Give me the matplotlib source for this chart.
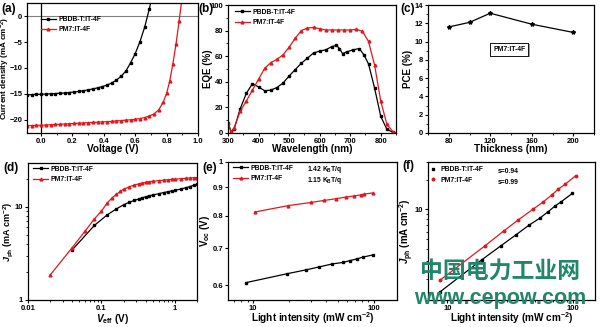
import numpy as np
import matplotlib
matplotlib.use('Agg')
import matplotlib.pyplot as plt
from matplotlib import patheffects
from matplotlib.ticker import MultipleLocator, FixedLocator, NullFormatter, FixedFormatter

plt.rcParams['font.family'] = ['Liberation Sans', 'Noto Sans CJK SC', 'DejaVu Sans']
plt.rcParams['font.weight'] = 'bold'
plt.rcParams['axes.labelweight'] = 'bold'
plt.rcParams['mathtext.fontset'] = 'custom'
plt.rcParams['mathtext.rm'] = 'Liberation Sans:bold'
plt.rcParams['mathtext.bf'] = 'Liberation Sans:bold'
plt.rcParams['mathtext.it'] = 'Liberation Sans:bold:italic'
plt.rcParams['mathtext.default'] = 'regular'
plt.rcParams['axes.linewidth'] = 0.9
plt.rcParams['xtick.major.size'] = 2.2
plt.rcParams['ytick.major.size'] = 2.2
plt.rcParams['xtick.minor.size'] = 1.3
plt.rcParams['ytick.minor.size'] = 1.3
plt.rcParams['xtick.major.pad'] = 1.2
plt.rcParams['ytick.major.pad'] = 1.2
plt.rcParams['xtick.labelsize'] = 5.5
plt.rcParams['ytick.labelsize'] = 5.5

BLACK = 'black'
RED = '#e0181e'
lab1 = 'PBDB-T:IT-4F'
lab2 = 'PM7:IT-4F'

# (a) J-V
v_black = [-0.09, -0.06, -0.03, 0.00, 0.03, 0.06, 0.09, 0.12, 0.15, 0.18, 0.21, 0.24, 0.27, 0.30,
           0.33, 0.36, 0.39, 0.42, 0.45, 0.48, 0.51, 0.54, 0.57, 0.60, 0.63, 0.66, 0.69, 0.72]
j_black = [-15.2, -15.15, -15.1, -15.1, -15.05, -15.0, -14.95, -14.9, -14.85, -14.75, -14.65, -14.55,
           -14.4, -14.25, -14.05, -13.85, -13.6, -13.3, -12.9, -12.35, -11.6, -10.6, -9.0, -7.2,
           -4.9, -2.1, 1.5, 5.5]
v_red = [-0.09, -0.06, -0.03, 0.00, 0.03, 0.06, 0.09, 0.12, 0.15, 0.18, 0.21, 0.24, 0.27, 0.30, 0.33,
         0.36, 0.39, 0.42, 0.45, 0.48, 0.51, 0.54, 0.57, 0.60, 0.63, 0.66, 0.69, 0.72, 0.75, 0.78,
         0.80, 0.82, 0.84, 0.86, 0.88, 0.90]
j_red = [-21.2, -21.15, -21.1, -21.1, -21.05, -21.0, -20.95, -20.9, -20.85, -20.8, -20.75, -20.7,
         -20.65, -20.6, -20.55, -20.5, -20.45, -20.4, -20.35, -20.25, -20.2, -20.1, -20.05, -19.95,
         -19.8, -19.6, -19.3, -18.9, -18.1, -16.5, -14.9, -12.5, -9.2, -5.3, -0.8, 4.0]

# (b) EQE
wl_black = [300, 310, 320, 340, 360, 380, 400, 420, 440, 460, 480, 500, 520, 540, 560, 580, 600, 620,
            640, 655, 665, 675, 690, 710, 730, 745, 760, 780, 800, 820, 840, 850]
eqe_black = [8, 1, 3, 19, 31, 38.5, 36, 33, 33.5, 35.5, 39, 44.5, 49.5, 54.5, 58.5, 62.5, 64, 65,
             67.5, 68.5, 66, 62, 63.5, 65, 66, 61, 54, 35, 13, 3, 0.5, 0]
wl_red = [300, 310, 320, 340, 360, 380, 400, 420, 440, 460, 480, 500, 520, 540, 560, 580, 600, 620,
          640, 660, 680, 700, 720, 740, 760, 780, 800, 820, 840, 850]
eqe_red = [8, 1, 4, 17, 25, 33.5, 42, 50.5, 55, 57.5, 61, 67, 74, 80, 82, 82.5, 81.5, 80.5, 80.5,
           80.5, 80.5, 80.5, 81, 79.5, 71.5, 53, 25, 7, 1, 0]

# (c) PCE vs thickness
thick = [80, 100, 120, 160, 200]
pce = [11.6, 12.1, 13.1, 11.9, 11.0]

# (d) Jph vs Veff
veff_black = [0.04, 0.08, 0.12, 0.16, 0.2, 0.24, 0.28, 0.32, 0.36, 0.4, 0.45, 0.5, 0.6, 0.7, 0.8,
              0.9, 1.0, 1.2, 1.4, 1.6, 1.8, 2.0]
jph_black = [3.45, 6.3, 8.2, 9.5, 10.5, 11.2, 11.7, 12.1, 12.5, 12.8, 13.1, 13.4, 13.8, 14.2, 14.5,
             14.8, 15.0, 15.5, 16.0, 16.5, 17.0, 17.5]
veff_red = [0.02, 0.04, 0.06, 0.08, 0.1, 0.12, 0.14, 0.16, 0.18, 0.2, 0.24, 0.28, 0.32, 0.36, 0.4,
            0.45, 0.5, 0.6, 0.7, 0.8, 0.9, 1.0, 1.2, 1.4, 1.6, 1.8, 2.0]
jph_red = [1.85, 3.65, 5.5, 7.4, 9.0, 11.0, 12.5, 13.6, 14.6, 15.4, 16.4, 17.1, 17.6, 18.0, 18.3,
           18.6, 18.8, 19.1, 19.3, 19.5, 19.7, 19.8, 20.0, 20.2, 20.4, 20.5, 20.6]

# (e) Voc vs light intensity
pl_e_black = [8.7, 19.2, 27.4, 35.3, 45.3, 55.4, 63.3, 72.8, 81.6, 98.6]
voc_black = [0.607, 0.630, 0.640, 0.648, 0.656, 0.660, 0.665, 0.670, 0.675, 0.681]
pl_e_red = [10.3, 19.6, 30.2, 38.7, 48.5, 58.6, 68.7, 78.0, 83.0, 98.6]
voc_red = [0.813, 0.835, 0.846, 0.853, 0.859, 0.865, 0.869, 0.873, 0.876, 0.880]

# (f) Jph vs light intensity
pl_f_black = [8.7, 18.9, 26.8, 35.1, 44.8, 54.7, 63.2, 72.5, 81.0, 98.9]
jl_black = [1.48, 3.14, 4.33, 5.55, 6.97, 8.2, 9.46, 10.9, 12.0, 14.5]
pl_f_red = [8.7, 20.0, 28.3, 36.8, 48.1, 58.1, 67.8, 76.5, 86.6, 105]
jl_red = [1.94, 4.33, 6.12, 7.88, 10.07, 11.9, 14.0, 16.0, 17.9, 21.8]

W, H = 600, 327
fig = plt.figure(figsize=(6, 3.27), dpi=100)


def box(l, t, r, b):
    a = fig.add_axes([l / W, 1 - b / H, (r - l) / W, (b - t) / H])
    a._px = (l, t, r, b)
    return a


def labels(a, xl, yl, yfs=7.0, xfs=7.2, xgap=11.5, ygap=15):
    l, t, r, b = a._px
    a.set_xlabel(xl, fontsize=xfs)
    a.set_ylabel(yl, fontsize=yfs)
    a.xaxis.set_label_coords(0.5, -xgap / (b - t))
    a.xaxis.label.set_va('top')
    a.yaxis.set_label_coords(-ygap / (r - l), 0.5)


lw = 0.9
ms = 2.4
leg_fs = 4.9
legkw = dict(frameon=False, fontsize=leg_fs, handlelength=2.2, handletextpad=0.4,
             labelspacing=0.5, borderpad=0, borderaxespad=0)

# ---- (a)
ax = box(27, 3, 198, 133)
ax.axhline(0, color='gray', lw=0.8)
ax.axvline(0, color='black', lw=0.9)
ax.plot(v_black, j_black, '-s', color=BLACK, lw=lw, ms=ms - 0.6, label=lab1)
ax.plot(v_red, j_red, '-^', color=RED, lw=lw, ms=ms - 0.4, label=lab2)
ax.set_xlim(-0.09, 1.0)
ax.set_ylim(-22.6, 2.6)
ax.xaxis.set_major_locator(MultipleLocator(0.2))
ax.xaxis.set_minor_locator(MultipleLocator(0.1))
ax.yaxis.set_major_locator(MultipleLocator(5))
ax.xaxis.set_major_formatter(matplotlib.ticker.FormatStrFormatter('%.1f'))
labels(ax, 'Voltage (V)', 'Current density (mA cm$^{-2}$)', yfs=5.9, ygap=14.8)
ax.legend(loc='upper left', bbox_to_anchor=(0.08, 0.9), **legkw)

# ---- (b)
ax = box(228, 5, 396, 133)
ax.plot(wl_black, eqe_black, '-s', color=BLACK, lw=lw, ms=ms - 0.6, label=lab1)
ax.plot(wl_red, eqe_red, '-^', color=RED, lw=lw, ms=ms - 0.4, label=lab2)
ax.set_xlim(300, 850)
ax.set_ylim(0, 100)
ax.xaxis.set_major_locator(MultipleLocator(100))
ax.xaxis.set_minor_locator(MultipleLocator(50))
ax.yaxis.set_major_locator(MultipleLocator(20))
ax.yaxis.set_minor_locator(MultipleLocator(10))
labels(ax, 'Wavelength (nm)', 'EQE (%)')
ax.legend(loc='upper left', bbox_to_anchor=(0.04, 0.97), **legkw)

# ---- (c)
ax = box(428, 5, 594, 133)
ax.plot(thick, pce, '-*', color=BLACK, lw=lw, ms=3)
ax.set_xlim(60, 220)
ax.set_ylim(0, 14)
ax.xaxis.set_major_locator(MultipleLocator(40))
ax.xaxis.set_minor_locator(MultipleLocator(20))
ax.yaxis.set_major_locator(MultipleLocator(2))
ax.yaxis.set_minor_locator(MultipleLocator(1))
labels(ax, 'Thickness (nm)', 'PCE (%)')
t = ax.text(0.49, 0.655, lab2, transform=ax.transAxes, fontsize=leg_fs, ha='center', va='center',
            bbox=dict(boxstyle='square,pad=0.45', fc='white', ec='black', lw=0.6))
t.get_bbox_patch().set_path_effects([patheffects.withSimplePatchShadow(offset=(1.2, -1.2),
                                                                       shadow_rgbFace='#999999', alpha=1),
                                     patheffects.Normal()])

# ---- (d)
ax = box(28, 163, 197, 300)
ax.plot(veff_black, jph_black, '-s', color=BLACK, lw=lw, ms=ms - 0.6, label=lab1)
ax.plot(veff_red, jph_red, '-^', color=RED, lw=lw, ms=ms - 0.4, label=lab2)
ax.set_xscale('log')
ax.set_yscale('log')
ax.set_xlim(0.01, 2)
ax.set_ylim(1, 29.5)
ax.xaxis.set_major_locator(FixedLocator([0.01, 0.1, 1]))
ax.xaxis.set_major_formatter(FixedFormatter(['0.01', '0.1', '1']))
ax.yaxis.set_major_locator(FixedLocator([1, 10]))
ax.yaxis.set_major_formatter(FixedFormatter(['1', '10']))
ax.xaxis.set_minor_formatter(NullFormatter())
ax.yaxis.set_minor_formatter(NullFormatter())
labels(ax, '$\\mathit{V}_{eff}$ (V)', '$\\mathit{J}_{ph}$ (mA cm$^{-2}$)', yfs=6.5, xgap=11.5, ygap=12.5)
ax.legend(loc='upper left', bbox_to_anchor=(0.03, 0.98), **legkw)

# ---- (e)
ax = box(228, 162, 397, 300)
ax.plot(pl_e_black, voc_black, '-s', color=BLACK, lw=lw, ms=ms - 0.6, label=lab1)
ax.plot(pl_e_red, voc_red, '-^', color=RED, lw=lw, ms=ms - 0.4, label=lab2)
ax.set_xscale('log')
ax.set_yscale('log')
ax.set_xlim(6.2, 155)
ax.set_ylim(0.565, 1.0)
ax.xaxis.set_major_locator(FixedLocator([10, 100]))
ax.xaxis.set_major_formatter(FixedFormatter(['10', '100']))
ax.xaxis.set_minor_formatter(NullFormatter())
ax.yaxis.set_major_locator(FixedLocator([0.6, 0.7, 0.8, 0.9, 1.0]))
ax.yaxis.set_major_formatter(FixedFormatter(['0.6', '0.7', '0.8', '0.9', '1']))
ax.yaxis.set_minor_locator(FixedLocator([]))
labels(ax, 'Light intensity (mW cm$^{-2}$)', 'V$_{oc}$ (V)', xgap=10.5, ygap=15.5)
ax.legend(loc='upper left', bbox_to_anchor=(0.03, 0.98), **legkw)
ax.text(79 / 169, 0.945, '1.42 K$_{B}$T/q', transform=ax.transAxes, fontsize=leg_fs, va='center')
ax.text(79 / 169, 0.868, '1.15 K$_{B}$T/q', transform=ax.transAxes, fontsize=leg_fs, va='center')

# ---- (f)
ax = box(428, 162, 595, 300)
ax.plot(pl_f_black, jl_black, '-s', color=BLACK, lw=lw, ms=ms - 0.6)
ax.plot(pl_f_red, jl_red, '-o', color=RED, lw=lw, ms=ms - 0.6)
ax.plot([], [], 's', color=BLACK, ms=ms - 0.6, label=lab1)
ax.plot([], [], 'o', color=RED, ms=ms - 0.6, label=lab2)
ax.set_xscale('log')
ax.set_yscale('log')
ax.set_xlim(7, 150)
ax.set_ylim(1.23, 30)
ax.xaxis.set_major_locator(FixedLocator([10, 100]))
ax.xaxis.set_major_formatter(FixedFormatter(['10', '100']))
ax.xaxis.set_minor_formatter(NullFormatter())
ax.yaxis.set_major_locator(FixedLocator([10]))
ax.yaxis.set_major_formatter(FixedFormatter(['10']))
ax.yaxis.set_minor_formatter(NullFormatter())
labels(ax, 'Light intensity (mW cm$^{-2}$)', '$\\mathit{J}_{ph}$ (mA cm$^{-2}$)', xgap=10.5, ygap=12.5)
legf = dict(legkw)
legf.update(handlelength=1.0, handletextpad=0.6)
ax.legend(loc='upper left', bbox_to_anchor=(0.01, 0.97), **legf)
ax.text(70 / 167, 0.93, 's=0.94', transform=ax.transAxes, fontsize=leg_fs, va='center')
ax.text(70 / 167, 0.855, 's=0.99', transform=ax.transAxes, fontsize=leg_fs, va='center')

# panel letters
for x, y, s in [(1, 3, '(a)'), (198, 3, '(b)'), (400, 3, '(c)'),
                (3, 162, '(d)'), (202, 162, '(e)'), (402, 160, '(f)')]:
    fig.text(x / W, 1 - y / H, s, fontsize=8.5, va='top', ha='left')

# watermark
fig.text(500 / W, 1 - 271 / H, '中国电力工业网', fontsize=16.5, color='#21876a', ha='center',
         va='center', family=['Noto Sans CJK SC', 'DejaVu Sans'], weight='bold')
fig.text(500 / W, 1 - 304 / H, 'www.cepow.com', fontsize=15.5, color='#21876a', ha='center',
         va='baseline', weight='bold')

fig.savefig('out.png', dpi=100)
